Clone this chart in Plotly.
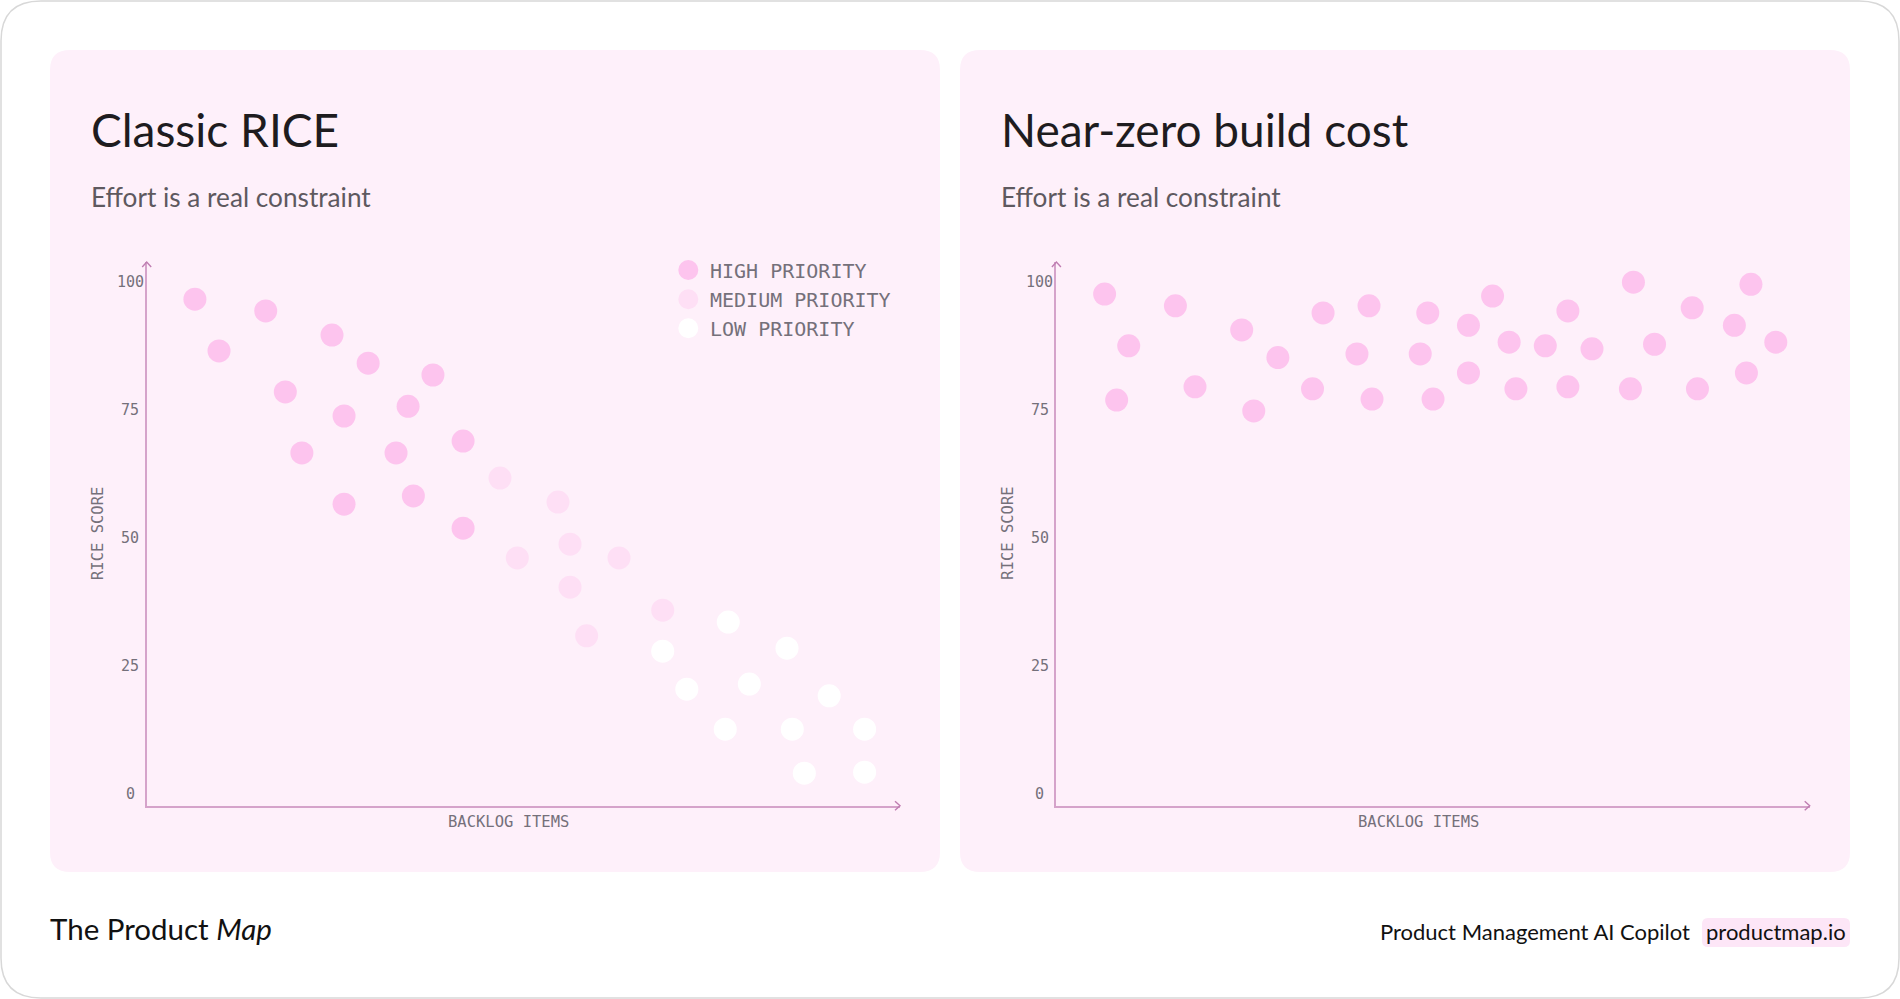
import plotly.graph_objects as go

W, H = 1900, 999

# ---------------- data ----------------
panel_titles = ["Classic RICE", "Near-zero build cost"]
panel_subtitles = ["Effort is a real constraint", "Effort is a real constraint"]
legend_labels = ["HIGH PRIORITY", "MEDIUM PRIORITY", "LOW PRIORITY"]
y_ticks = [0, 25, 50, 75, 100]
x_title = "BACKLOG ITEMS"
y_title = "RICE SCORE"

high_x = [6.4, 9.6, 15.8, 18.4, 20.6, 24.6, 26.2, 26.2, 29.4, 33.1, 34.7, 35.4, 38.0, 42.0, 42.0]
high_y = [96.6, 86.5, 94.3, 78.5, 66.6, 89.6, 73.8, 56.6, 84.1, 66.6, 75.7, 58.2, 81.8, 68.9, 51.9]
med_x = [46.9, 49.2, 54.6, 56.2, 62.7, 56.2, 58.4, 68.5]
med_y = [61.7, 46.1, 57.0, 48.8, 46.1, 40.4, 30.9, 35.9]
low_x = [77.2, 68.5, 85.0, 71.7, 80.0, 90.6, 76.8, 85.7, 95.3, 87.3, 95.3]
low_y = [33.6, 27.9, 28.5, 20.5, 21.5, 19.2, 12.7, 12.7, 12.7, 4.1, 4.3]

near_x = [6.4, 8.0, 9.6, 15.8, 18.4, 24.6, 26.2, 29.4, 34.0, 35.4, 39.9, 41.5, 41.9,
          48.3, 49.3, 50.0, 54.7, 54.7, 57.9, 60.1, 61.0, 64.9, 67.9, 67.9, 71.1,
          76.2, 76.6, 79.4, 84.4, 85.1, 90.0, 91.6, 92.2, 95.5]
near_y = [97.6, 76.9, 87.5, 95.3, 79.5, 90.6, 74.8, 85.2, 79.1, 93.9, 85.9, 95.3, 77.1,
          85.9, 93.9, 77.1, 91.5, 82.2, 97.2, 88.2, 79.1, 87.5, 94.3, 79.5, 86.9,
          79.1, 99.9, 87.8, 94.9, 79.1, 91.5, 82.2, 99.5, 88.2]

# ---------------- styles ----------------
CARD = "#FEF0FA"
HIGH = "#FDC4EE"
MED = "#FEDFF5"
LOW = "#FFFFFF"
AXIS = "#D5A3CA"
ARROW = "#BF7DB1"
TICK = "#75707A"
INK = "#1E1C1F"
SUB = "#5E595F"
MONO = "DejaVu Sans Mono"
SANS = "Lato"
MS = 23


def px(x):
    return x / W


def py(y):
    return 1 - y / H


def rrect(x0, y0, x1, y1, r):
    return (f"M {px(x0 + r)},{py(y0)} L {px(x1 - r)},{py(y0)} "
            f"Q {px(x1)},{py(y0)} {px(x1)},{py(y0 + r)} L {px(x1)},{py(y1 - r)} "
            f"Q {px(x1)},{py(y1)} {px(x1 - r)},{py(y1)} L {px(x0 + r)},{py(y1)} "
            f"Q {px(x0)},{py(y1)} {px(x0)},{py(y1 - r)} L {px(x0)},{py(y0 + r)} "
            f"Q {px(x0)},{py(y0)} {px(x0 + r)},{py(y0)} Z")


fig = go.Figure()

sc = dict(mode="markers", hoverinfo="skip", cliponaxis=False, showlegend=False)
fig.add_trace(go.Scatter(x=high_x, y=high_y, xaxis="x", yaxis="y", name=legend_labels[0],
                         marker=dict(size=MS, color=HIGH, line=dict(width=0)), **sc))
fig.add_trace(go.Scatter(x=med_x, y=med_y, xaxis="x", yaxis="y", name=legend_labels[1],
                         marker=dict(size=MS, color=MED, line=dict(width=0)), **sc))
fig.add_trace(go.Scatter(x=low_x, y=low_y, xaxis="x", yaxis="y", name=legend_labels[2],
                         marker=dict(size=MS, color=LOW, line=dict(width=0)), **sc))
fig.add_trace(go.Scatter(x=near_x, y=near_y, xaxis="x2", yaxis="y2", name=legend_labels[0],
                         marker=dict(size=MS, color=HIGH, line=dict(width=0)), **sc))

# panel geometry (pixels)
OFF = 909.7
AX_L, AX_R, AX_B, AX_T = 146.7, 900.0, 805.7, 262.0
YR = [-2.24, 103.85]

ax_common = dict(showgrid=False, zeroline=False, showticklabels=False, ticks="",
                 showline=True, linecolor=AXIS, linewidth=2, fixedrange=True)

shapes = []
annotations = []

# outer frame
shapes.append(dict(type="path", xref="paper", yref="paper", path=rrect(1, 1, 1899, 998, 40),
                   line=dict(color="#D8D8D8", width=1.5), fillcolor="rgba(0,0,0,0)", layer="below"))

layout_axes = {}
for i in range(2):
    o = OFF * i
    # card
    shapes.append(dict(type="path", xref="paper", yref="paper",
                       path=rrect(50 + 910 * i, 50, 940 + 910 * i, 872, 20),
                       line=dict(width=0), fillcolor=CARD, layer="below"))
    xs = "" if i == 0 else "2"
    layout_axes[f"xaxis{xs}"] = dict(domain=[px(AX_L + o), px(AX_R + o)], range=[0, 100],
                                     anchor=f"y{xs}", **ax_common)
    layout_axes[f"yaxis{xs}"] = dict(domain=[py(AX_B), py(AX_T)], range=YR,
                                     anchor=f"x{xs}", **ax_common)
    # arrowheads
    tx, ty = AX_R + o, AX_B
    shapes.append(dict(type="path", xref="paper", yref="paper",
                       path=f"M {px(tx - 5)},{py(ty - 4.5)} L {px(tx)},{py(ty)} L {px(tx - 5)},{py(ty + 4.5)}",
                       line=dict(color=ARROW, width=1.4)))
    tx, ty = AX_L + o, AX_T
    shapes.append(dict(type="path", xref="paper", yref="paper",
                       path=f"M {px(tx - 4.5)},{py(ty + 5)} L {px(tx)},{py(ty)} L {px(tx + 4.5)},{py(ty + 5)}",
                       line=dict(color=ARROW, width=1.4)))
    # tick labels (centred)
    for v in y_ticks:
        annotations.append(dict(x=px(130 + o), y=v, xref="paper", yref=f"y{xs}", text=str(v),
                                showarrow=False, xanchor="center", yanchor="middle",
                                font=dict(family=MONO, size=15, color=TICK)))
    # axis titles
    annotations.append(dict(x=px(97.5 + o), y=py(533.5), xref="paper", yref="paper", text=y_title,
                            textangle=-90, showarrow=False, xanchor="center", yanchor="middle",
                            font=dict(family=MONO, size=15.5, color=TICK)))
    annotations.append(dict(x=px(508.5 + o), y=py(821.5), xref="paper", yref="paper", text=x_title,
                            showarrow=False, xanchor="center", yanchor="middle",
                            font=dict(family=MONO, size=15.5, color=TICK)))
    # titles
    annotations.append(dict(x=px(89 + 910 * i), y=py(129.5), xref="paper", yref="paper",
                            text=panel_titles[i], showarrow=False, xanchor="left", yanchor="middle",
                            font=dict(family=SANS, size=46, color=INK)))
    annotations.append(dict(x=px(89 + 910 * i), y=py(196.5), xref="paper", yref="paper",
                            text=panel_subtitles[i], showarrow=False, xanchor="left", yanchor="middle",
                            font=dict(family=SANS, size=26.2, color=SUB)))

# custom legend (left panel)
leg_colors = [HIGH, MED, LOW]
leg_y = [270, 299.3, 328.3]
for lab, col, yy in zip(legend_labels, leg_colors, leg_y):
    shapes.append(dict(type="circle", xref="paper", yref="paper",
                       x0=px(688.3 - 10), x1=px(688.3 + 10), y0=py(yy + 10), y1=py(yy - 10),
                       fillcolor=col, line=dict(width=0)))
    annotations.append(dict(x=px(708), y=py(yy + 1), xref="paper", yref="paper", text=lab,
                            showarrow=False, xanchor="left", yanchor="middle",
                            font=dict(family=MONO, size=20, color=TICK)))

# footer
annotations.append(dict(x=px(48), y=py(928.5), xref="paper", yref="paper",
                        text="The Product <i>Map</i>", showarrow=False, xanchor="left",
                        yanchor="middle", font=dict(family=SANS, size=29.5, color="#111111")))
annotations.append(dict(x=px(1692), y=py(931.5), xref="paper", yref="paper",
                        text="Product Management AI Copilot", showarrow=False, xanchor="right",
                        yanchor="middle", font=dict(family=SANS, size=22, color="#111111")))
shapes.append(dict(type="path", xref="paper", yref="paper", path=rrect(1702, 918, 1850, 947, 6),
                   line=dict(width=0), fillcolor="#FDE6F7", layer="below"))
annotations.append(dict(x=px(1776), y=py(931.5), xref="paper", yref="paper",
                        text="productmap.io", showarrow=False, xanchor="center",
                        yanchor="middle", font=dict(family=SANS, size=22, color="#111111")))

fig.update_layout(
    width=W, height=H, margin=dict(l=0, r=0, t=0, b=0),
    paper_bgcolor="#FFFFFF", plot_bgcolor="rgba(0,0,0,0)",
    showlegend=False, shapes=shapes, annotations=annotations,
    **layout_axes,
)

fig.write_html("out.html", config={"displayModeBar": False})
